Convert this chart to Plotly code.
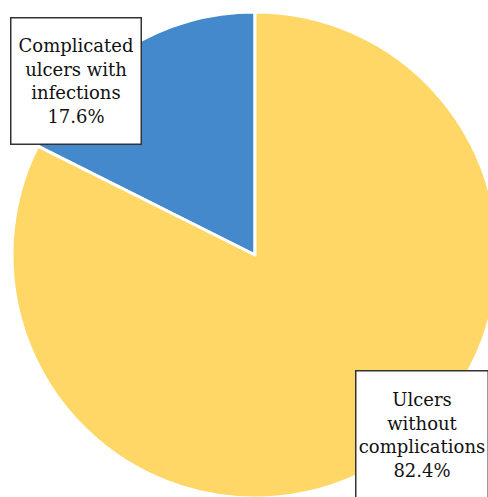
import plotly.graph_objects as go

# Ulcer categories and their shares (%)
labels = ["Complicated ulcers with infections", "Ulcers without complications"]
box_text = ["Complicated<br>ulcers with<br>infections", "Ulcers<br>without<br>complications"]
values = [17.6, 82.4]
colors = ["#4389CC", "#FED766"]

W, H = 510, 510
M = 12
PLOT = W - 2 * M
SERIF = "DejaVu Serif"

fig = go.Figure(
    go.Pie(
        labels=labels,
        values=values,
        sort=False,
        direction="clockwise",
        rotation=-values[0] * 3.6,
        marker=dict(colors=colors, line=dict(color="white", width=3)),
        textinfo="none",
        hoverinfo="label+percent",
        showlegend=False,
    )
)


def px_to_paper(cx, cy):
    return (cx - M) / PLOT, 1 - (cy - M) / PLOT


# Label boxes (pixel centres of each box)
box_centres = [(75.5, 80.5), (421.5, 434.5)]
box_sizes = [(127, 123), (129, 125)]
for txt, v, (cx, cy), (bw, bh) in zip(box_text, values, box_centres, box_sizes):
    ax, ay = px_to_paper(cx, cy)
    fig.add_annotation(
        x=ax, y=ay, xref="paper", yref="paper",
        text=f"{txt}<br>{v:.1f}%",
        showarrow=False,
        font=dict(family=SERIF, size=18, color="#111111"),
        bgcolor="white",
        bordercolor="#333333",
        borderwidth=1.5,
        borderpad=1,
        width=bw, height=bh,
        align="center", valign="middle",
        xanchor="center", yanchor="middle",
    )

fig.update_layout(
    width=W, height=H,
    margin=dict(l=M, r=M, t=M, b=M),
    paper_bgcolor="white",
    plot_bgcolor="white",
    font=dict(family=SERIF),
)

fig.write_html(
    "out.html",
    post_script="document.body.style.overflow='hidden';document.documentElement.style.overflow='hidden';",
)
